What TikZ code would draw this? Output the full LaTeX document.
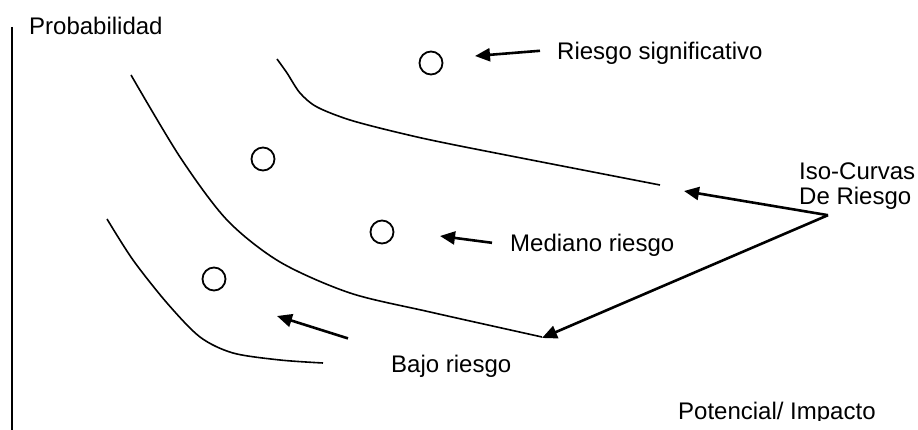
\documentclass[tikz,border=0pt]{standalone}
\usepackage{fontspec}
\setmainfont{Liberation Sans}
\usepackage{tikz}
\usetikzlibrary{arrows.meta}
\usetikzlibrary{positioning}

\tikzset{
  isocurve/.style={line width=1.6pt},
  riskarrow/.style={line width=2.6pt,-{Triangle[length=15pt,width=13pt]}},
  riskpoint/.style={circle,draw,line width=1.8pt,minimum size=2*\CircR pt,inner sep=0pt},
  lbl/.style={inner sep=0pt,font=\fontsize{24}{25.5}\selectfont}
}

\begin{document}
\begin{tikzpicture}[x=1pt,y=-1pt]
  \pgfmathsetmacro{\CircR}{11.5}
  \pgfmathsetmacro{\AxisX}{12}
  \useasboundingbox (0,0) rectangle (918,430);

  % eje
  \coordinate (axTop) at (\AxisX,27);
  \coordinate (axBot) at (\AxisX,430);
  \draw[line width=2pt] (axTop) -- (axBot);
  \node[lbl,anchor=base west] (txtProb) at (29,35) {Probabilidad};
  \begin{scope}
    \clip (0,0) rectangle (918,420);
    \node[lbl,anchor=base west] (txtPot) at (678,419) {Potencial/ Impacto};
  \end{scope}

  % iso-curvas
  \draw[isocurve] plot[smooth] coordinates {(107,219) (133,260) (167,303) (200,337) (233,353) (280,360) (323,363)};
  \draw[isocurve] plot[smooth] coordinates {(131,75) (180,157) (227,220) (280,262) (350,293) (430,312) (542,337)};
  \draw[isocurve] plot[smooth] coordinates {(277,59) (287,73) (300,93) (317,107) (350,120) (400,133) (460,146) (660,185)};

  % puntos de riesgo
  \node[riskpoint] (ptHigh) at (431,63) {};
  \node[riskpoint] (ptMidA) at (263,159) {};
  \node[riskpoint] (ptMidB) at (382,232) {};
  \node[riskpoint] (ptLow) at (214,279) {};

  \node[lbl,anchor=base west] (txtHigh) at (557,60) {Riesgo significativo};
  \node[lbl,anchor=base west] (txtMid) at (510,252) {Mediano riesgo};
  \node[lbl,anchor=base west] (txtLow) at (391,372) {Bajo riesgo};
  \node[lbl,anchor=base west,align=left] (txtIso) at (799,205) {Iso-Curvas\\De Riesgo};

  \coordinate (tipHigh) at (475,56);
  \coordinate (tipMid) at (440,236);
  \coordinate (tipLow) at (277,316);
  \coordinate (tipCurveC) at (684,191);
  \coordinate (tipCurveB) at (542,338);
  \coordinate (isoFoot) at ([xshift=29pt,yshift=-5pt]txtIso.south west);

  \draw[riskarrow] ([xshift=-17pt,yshift=3pt]txtHigh.west) -- (tipHigh);
  \draw[riskarrow] ([xshift=-18pt,yshift=3pt]txtMid.west) -- (tipMid);
  \draw[riskarrow] ([xshift=-43pt,yshift=16pt]txtLow.north west) -- (tipLow);
  \draw[riskarrow] (isoFoot) -- (tipCurveC);
  \draw[riskarrow] (isoFoot) -- (tipCurveB);
\end{tikzpicture}
\end{document}
